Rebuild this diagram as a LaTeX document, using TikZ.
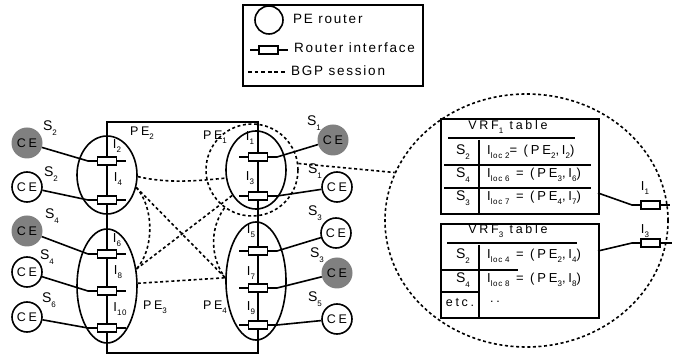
\documentclass[tikz,border=0pt]{standalone}
\usepackage{fontspec}
\setmainfont{Liberation Sans}[LetterSpace=22]
\newfontfamily\legfont{Liberation Sans}[LetterSpace=13]
\newfontfamily\subfont{Liberation Sans}[LetterSpace=8]
\usetikzlibrary{shapes.geometric}
\newcommand\sbs[1]{\raisebox{-0.35em}{\subfont\fontsize{8}{9}\selectfont #1}}
\newcommand\fA{\fontsize{12.5}{14}\selectfont}
\newcommand\fT{\fontsize{13}{15}\selectfont}
\newcommand\fS{\fontsize{14}{16}\selectfont}
\newcommand\fI{\fontsize{13}{15}\selectfont}
\newcommand\fL{\legfont\fontsize{13.5}{15}\selectfont}
\definecolor{cegray}{RGB}{128,128,128}
\tikzset{
  ln/.style={line width=1.6pt},
  bgp/.style={line width=1.6pt, dash pattern=on 3pt off 2.6pt},
  ce/.style={circle, draw, line width=1.6pt, minimum size=30pt, inner sep=0pt, font=\fA},
  cefill/.style={circle, fill=cegray, minimum size=31pt, inner sep=0pt, font=\fA},
  pe/.style={ellipse, draw, line width=1.6pt, minimum width=60pt, inner sep=0pt},
  iface/.style={rectangle, draw, fill=white, line width=1.6pt, minimum width=19pt, minimum height=8pt, inner sep=0pt},
  lab/.style={inner sep=0pt},
  tbox/.style={draw, line width=1.6pt, inner sep=0pt, anchor=north west},
}
\begin{document}
\begin{tikzpicture}[x=1pt, y=-1pt]
\useasboundingbox (0,0) rectangle (678,355);

% ---------- legend ----------
\node[draw, line width=1.6pt, minimum width=180pt, minimum height=81pt, inner sep=0pt] (legend) at (333,45.5) {};
\node[circle, draw, line width=1.6pt, minimum size=28pt, inner sep=0pt] (lgc) at (269,20) {};
\node[lab, anchor=west, font=\fL] (lgt1) at (293,19) {PE router};
\coordinate (lga) at (250,50);
\coordinate (lgb) at (288,50);
\draw[ln] (lga) -- (lgb);
\node[iface] (lgr) at (268.5,50) {};
\node[lab, anchor=west, font=\fL] (lgt2) at (294,48) {Router interface};
\coordinate (lgd1) at (248,72);
\coordinate (lgd2) at (287,72);
\draw[line width=1.6pt, dash pattern=on 3.8pt off 2.8pt] (lgd1) -- (lgd2);
\node[lab, anchor=west, font=\fL] (lgt3) at (291,71) {BGP session};

% ---------- backbone rectangle ----------
\coordinate (rtl) at (107,122);
\coordinate (rtr) at (258,122);
\coordinate (rbl) at (107,353);
\coordinate (rbr) at (258,353);
\draw[ln] (rbl) -- (rtl) -- (rtr) -- (rbr) -- cycle;

% ---------- PE ellipses ----------
\node[pe, minimum height=78pt] (pe2) at (107,175) {};
\node[pe, minimum height=114pt] (pe3) at (107,286) {};
\node[pe, minimum height=78pt] (pe1) at (256,170) {};
\node[pe, minimum height=118pt] (pe4) at (256,281) {};
\node[circle, draw, bgp, minimum size=92pt, inner sep=0pt] (pe1c) at (252,170) {};

% ---------- interfaces, left ----------
\foreach \n/\yy in {i2/161, i4/200, i6/254, i8/291, i10/328}{
  \coordinate (\n L) at (88,\yy);
  \coordinate (\n R) at (126,\yy);
  \draw[ln] (\n L) -- (\n R);
  \node[iface] (\n) at (107,\yy) {};
}
% ---------- interfaces, right ----------
\foreach \n/\yy in {i1/157, i3/196, i5/251, i7/288, i9/325}{
  \coordinate (\n L) at (239,\yy);
  \coordinate (\n R) at (277,\yy);
  \draw[ln] (\n L) -- (\n R);
  \node[iface] (\n) at (258,\yy) {};
}

% ---------- CE routers ----------
\node[cefill] (ceA) at (27,143) {CE};
\node[ce] (ceB) at (27,187) {CE};
\node[cefill] (ceC) at (27,231) {CE};
\node[ce] (ceD) at (27,272) {CE};
\node[ce] (ceE) at (27,317) {CE};
\node[cefill] (ceF) at (333,140) {CE};
\node[ce] (ceG) at (337,187) {CE};
\node[ce] (ceH) at (336,233) {CE};
\node[cefill] (ceI) at (337,273) {CE};
\node[ce] (ceJ) at (337,319) {CE};

\draw[ln] (ceA) -- (i2L);
\draw[ln] (ceB) -- (i4L);
\draw[ln] (ceC) -- (i6L);
\draw[ln] (ceD) -- (i8L);
\draw[ln] (ceE) -- (i10L);
\draw[ln] (i1R) -- (ceF);
\draw[ln] (i3R) -- (ceG);
\draw[ln] (i5R) -- (ceH);
\draw[ln] (i7R) -- (ceI);
\draw[ln] (i9R) -- (ceJ);

% ---------- S labels ----------
\node[lab, font=\fS] (sA) at (50,128) {S\sbs{2}};
\node[lab, font=\fS] (sB) at (51,174) {S\sbs{2}};
\node[lab, font=\fS] (sC) at (52,216) {S\sbs{4}};
\node[lab, font=\fS] (sD) at (47,257) {S\sbs{4}};
\node[lab, font=\fS] (sE) at (49,300) {S\sbs{6}};
\node[lab, font=\fS] (sF) at (314,123) {S\sbs{1}};
\node[lab, font=\fS] (sG) at (315,171) {S\sbs{1}};
\node[lab, font=\fS] (sH) at (315,213) {S\sbs{3}};
\node[lab, font=\fS] (sI) at (317,255) {S\sbs{3}};
\node[lab, font=\fS] (sJ) at (315,299) {S\sbs{5}};

% ---------- I labels ----------
\node[lab, font=\fI] (lI2) at (117,146) {I\sbs{2}};
\node[lab, font=\fI] (lI4) at (118,179) {I\sbs{4}};
\node[lab, font=\fI] (lI6) at (117,240) {I\sbs{6}};
\node[lab, font=\fI] (lI8) at (118,272) {I\sbs{8}};
\node[lab, font=\fI] (lI10) at (120,309) {I\sbs{10}};
\node[lab, font=\fI] (lI1) at (250,138) {I\sbs{1}};
\node[lab, font=\fI] (lI3) at (250,178) {I\sbs{3}};
\node[lab, font=\fI] (lI5) at (251,231) {I\sbs{5}};
\node[lab, font=\fI] (lI7) at (251,273) {I\sbs{7}};
\node[lab, font=\fI] (lI9) at (251,308) {I\sbs{9}};

% ---------- PE labels ----------
\node[lab, font=\fA] (lpe2) at (142,133) {PE\sbs{2}};
\node[lab, font=\fA] (lpe1) at (215,137) {PE\sbs{1}};
\node[lab, font=\fA] (lpe3) at (155,307) {PE\sbs{3}};
\node[lab, font=\fA] (lpe4) at (215,307) {PE\sbs{4}};

% ---------- BGP sessions ----------
\draw[bgp] (pe2.-3) .. controls +(30,7) and +(-30,3) .. (pe1.195);
\draw[bgp] (pe2.-23) .. controls +(18,20) and +(18,-20) .. (pe3.30);
\draw[bgp] (pe2.-23) -- (pe4.174);
\draw[bgp] (pe3.30) -- (pe1.227);
\draw[bgp] (pe3.5) -- (pe4.174);
\draw[bgp] (pe1c.234) .. controls +(-16,22) and +(-14,-18) .. (pe4.174);

% ---------- zoom ellipse ----------
\node[ellipse, draw, bgp, minimum width=283pt, minimum height=253pt, inner sep=0pt] (zoomv) at (526.5,220.5) {};
\draw[bgp] (pe1c.8) -- (zoomv.160);

% ---------- VRF1 table ----------
\node[tbox, minimum width=158pt, minimum height=95pt] (vrf1) at (440,118) {};
\node[lab, font=\fA] (t1) at (508,127) {VRF\sbs{1} table};
\draw[ln] (448,138) -- (575,138);
\draw[ln] (479,140) -- (479,213);
\draw[ln] (444,165) -- (591,165);
\draw[ln] (444,188) -- (591,188);
\node[lab, font=\fS] (t1s1) at (463,152) {S\sbs{2}};
\node[lab, font=\fS] (t1s2) at (463,175) {S\sbs{4}};
\node[lab, font=\fS] (t1s3) at (463,198) {S\sbs{3}};
\node[lab, font=\fT, anchor=west] (t1e1) at (487,152) {I\sbs{loc 2}= (PE\sbs{2},I\sbs{2})};
\node[lab, font=\fT, anchor=west] (t1e2) at (487,175) {I\sbs{loc 6} = (PE\sbs{3},I\sbs{6})};
\node[lab, font=\fT, anchor=west] (t1e3) at (487,198) {I\sbs{loc 7} = (PE\sbs{4},I\sbs{7})};

% ---------- VRF3 table ----------
\node[tbox, minimum width=158pt, minimum height=94pt] (vrf3) at (440,223) {};
\node[lab, font=\fA] (t3) at (508,231) {VRF\sbs{3} table};
\draw[ln] (447,243) -- (577,243);
\draw[ln] (479,245) -- (479,317);
\draw[ln] (442,270) -- (518,270);
\draw[ln] (442,292) -- (479,292);
\node[lab, font=\fS] (t3s1) at (463,256) {S\sbs{2}};
\node[lab, font=\fS] (t3s2) at (463,280) {S\sbs{4}};
\node[lab, font=\fA] (t3s3) at (460,303) {etc.};
\node[lab, font=\fT, anchor=west] (t3e1) at (487,256) {I\sbs{loc 4} = (PE\sbs{2},I\sbs{4})};
\node[lab, font=\fT, anchor=west] (t3e2) at (487,280) {I\sbs{loc 8} = (PE\sbs{3},I\sbs{8})};
\node[lab, font=\fA, anchor=west] (t3e3) at (490,302) {..};

% ---------- VRF interfaces ----------
\coordinate (v1o) at (598,193);
\coordinate (v1k) at (632,205);
\coordinate (v1e) at (670,205);
\node[iface] (vif1) at (650.5,205) {};
\draw[ln] (v1o) -- (v1k) -- (vif1.west);
\draw[ln] (vif1.east) -- (v1e);
\node[lab, font=\fI] (lv1) at (645,188) {I\sbs{1}};
\coordinate (v3o) at (598,251);
\coordinate (v3k) at (632,243);
\coordinate (v3e) at (672,243);
\node[iface] (vif3) at (650.5,243) {};
\draw[ln] (v3o) -- (v3k) -- (vif3.west);
\draw[ln] (vif3.east) -- (v3e);
\node[lab, font=\fI] (lv3) at (645,231) {I\sbs{3}};
\end{tikzpicture}
\end{document}
